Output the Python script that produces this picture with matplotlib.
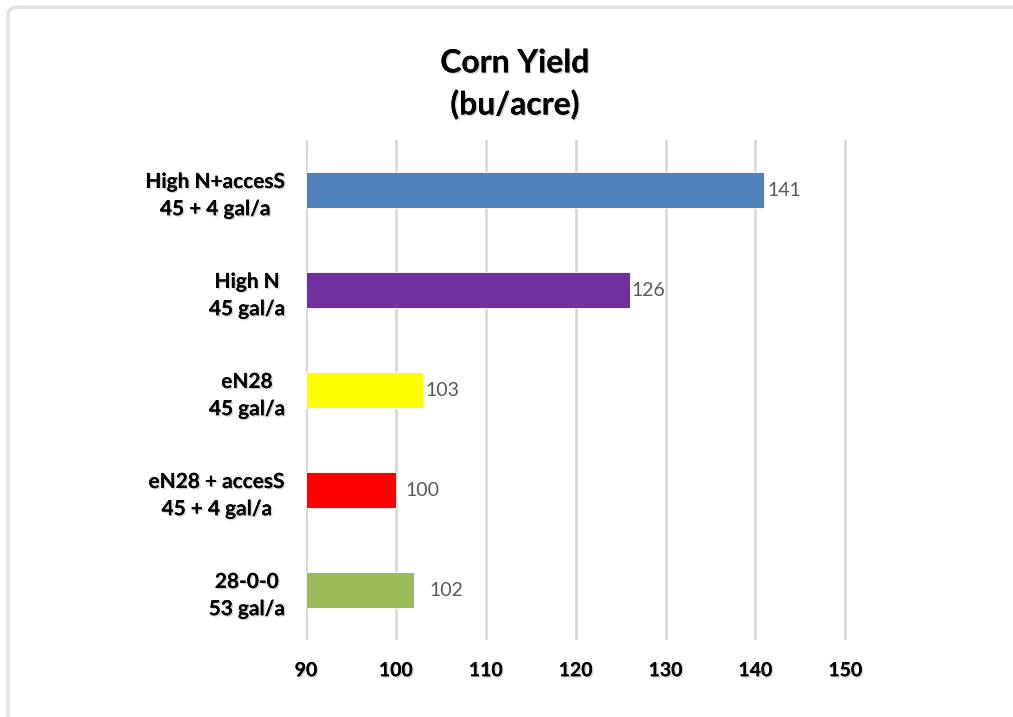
import matplotlib
matplotlib.use("Agg")
import matplotlib.pyplot as plt
import matplotlib.patheffects as pe
from matplotlib.patches import FancyBboxPatch

plt.rcParams['font.family'] = ['Lato', 'DejaVu Sans']

# data, top to bottom
labels = ["High N+accesS\n45 + 4 gal/a", "High N\n45 gal/a", "eN28\n45 gal/a",
          "eN28 + accesS\n45 + 4 gal/a", "28-0-0\n53 gal/a"]
yields = [141, 126, 103, 100, 102]
colors = ["#4F81BD", "#7030A0", "#FFFF00", "#FF0000", "#9BBB59"]
label_pad = [2, 1, 2, 7, 11]   # value label offsets (points)

fig = plt.figure(figsize=(10.13, 7.17), dpi=100)

# light frame round the chart
frame = FancyBboxPatch((8 / 1013, -0.05), 1.1, 1.04, transform=fig.transFigure,
                       boxstyle="round,pad=0,rounding_size=0.01",
                       facecolor="none", edgecolor="#e2e2e2", linewidth=2.5)
fig.patches.append(frame)

ax = fig.add_axes([306 / 1013, 1 - 640 / 717, (848 - 306) / 1013, 500 / 717])

pos = list(range(len(labels)))
ax.barh(pos, [v - 90 for v in yields], left=90, height=0.36, color=colors,
        edgecolor="white", linewidth=0.6, zorder=3)
ax.set_xlim(90, 150.3)
ax.set_ylim(len(labels) - 0.5, -0.5)

shadow = [pe.withSimplePatchShadow(offset=(1, -1), alpha=0.35, shadow_rgbFace="gray"), pe.Normal()]

for p, v, off in zip(pos, yields, label_pad):
    ax.annotate(str(v), (v, p), xytext=(off, 0), textcoords="offset points",
                va="center", ha="left", fontsize=14, color="#595959")

ax.set_xticks(range(90, 151, 10))
ax.set_yticks(pos)
ax.set_yticklabels(labels, fontsize=15, fontweight="bold", multialignment="center",
                   linespacing=1.45)
for t in ax.get_xticklabels():
    t.set_fontsize(14)
    t.set_fontweight("bold")
for t in ax.get_xticklabels() + ax.get_yticklabels():
    t.set_path_effects(shadow)

ax.tick_params(axis="both", length=0)
ax.tick_params(axis="x", pad=16)
ax.tick_params(axis="y", pad=15)
ax.grid(axis="x", color="#d4d4d4", linewidth=1.8, zorder=0)
for s in ax.spines.values():
    s.set_visible(False)

fig.text(515 / 1013, 1 - 84 / 717, "Corn Yield\n(bu/acre)", ha="center", va="center",
         fontsize=23, fontweight="bold", linespacing=1.45, path_effects=shadow)

fig.savefig("out.png", dpi=100)
